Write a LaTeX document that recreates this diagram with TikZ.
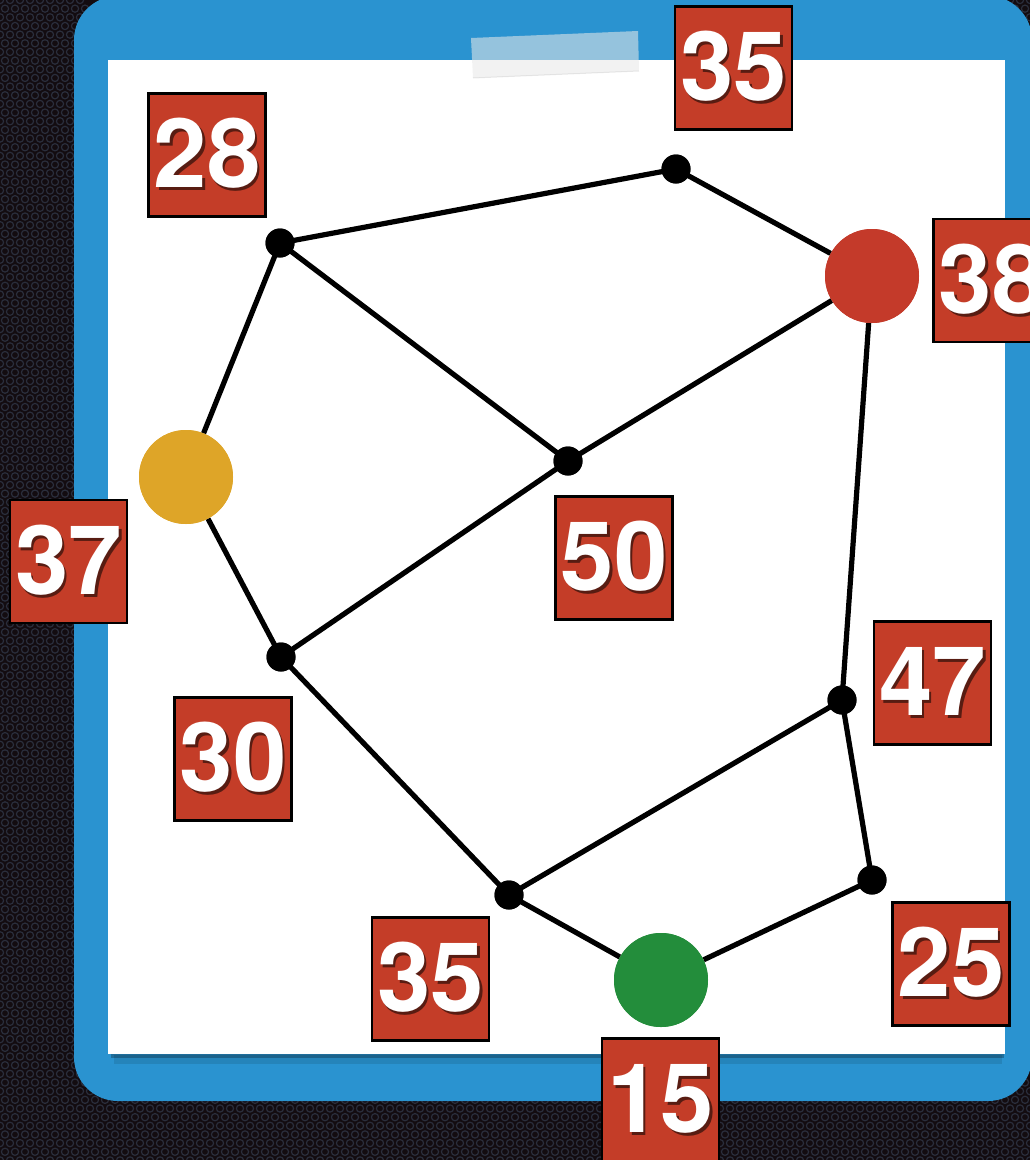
\documentclass[tikz,border=0pt]{standalone}
\usepackage{fontspec}
\newfontfamily\labfont{TeX Gyre Heros}
\definecolor{bgdark}{HTML}{130C10}
\definecolor{bgring}{HTML}{2A2E3C}
\definecolor{boardblue}{HTML}{2A93D0}
\definecolor{labred}{HTML}{C43D28}
\definecolor{nodered}{HTML}{C43A2A}
\definecolor{nodeyellow}{HTML}{DEA528}
\definecolor{nodegreen}{HTML}{238D3B}
\newcommand\shadowed[1]{\rlap{\kern2.5pt\raisebox{-3pt}{\textcolor{black!55!labred}{#1}}}#1}
\tikzset{
  dotnode/.style={circle, fill=black, minimum size=29pt, inner sep=0pt},
  bignode/.style={circle, minimum size=94pt, inner sep=0pt},
  labbox/.style={draw=black, line width=2.5pt, fill=labred, minimum width=117pt,
    minimum height=123pt, inner sep=0pt, text=white,
    font=\labfont\bfseries\fontsize{96}{96}\selectfont},
  edge/.style={line width=5.2pt, black},
  ring/.style={draw=bgring, line width=1.2pt}
}
\begin{document}
\begin{tikzpicture}[x=1pt,y=-1pt]
\useasboundingbox (0,0) rectangle (1030,1160);
\clip (0,0) rectangle (1030,1160);
% dark perforated background
\fill[bgdark] (0,0) rectangle (1030,1160);
\foreach \r in {0,...,134}{
  \pgfmathsetmacro\yy{\r*8.66}
  \pgfmathsetmacro\off{mod(\r,2)*5}
  \foreach \c in {0,...,8}{
    \draw[ring] ({\c*10+\off},\yy) circle (3.6);
  }
}
\foreach \r in {125,...,134}{
  \pgfmathsetmacro\yy{\r*8.66}
  \pgfmathsetmacro\off{mod(\r,2)*5}
  \foreach \c in {9,...,103}{
    \draw[ring] ({\c*10+\off},\yy) circle (3.6);
  }
}
\foreach \r in {0,...,7}{
  \pgfmathsetmacro\yy{\r*8.66}
  \pgfmathsetmacro\off{mod(\r,2)*5}
  \foreach \c in {96,...,103}{
    \draw[ring] ({\c*10+\off},\yy) circle (3.6);
  }
}
% clipboard
\fill[boardblue, rounded corners=44pt] (74,-4) rectangle (1032,1101);
% paper shadow
\fill[black, opacity=0.25] (111,1050) rectangle (1004,1058);
\fill[black, opacity=0.10] (114,1055) rectangle (1002,1064);
% paper
\fill[white] (108,60) rectangle (1005,1054);
% tape
\fill[white, opacity=0.55] (471,38) -- (638,31) -- (639,71) -- (473,78) -- cycle;
\fill[black, opacity=0.05] (471,38) -- (638,31) -- (639,71) -- (473,78) -- cycle;
\draw[black, opacity=0.08, line width=1pt] (473,78) -- (639,71);

% graph nodes
\node[dotnode] (nA) at (280,243) {};
\node[dotnode] (nB) at (676,169) {};
\node[bignode, fill=nodered] (nC) at (872,276) {};
\node[dotnode] (nD) at (568,461) {};
\node[bignode, fill=nodeyellow] (nE) at (186,477) {};
\node[dotnode] (nF) at (281,657) {};
\node[dotnode] (nG) at (842,700) {};
\node[dotnode] (nH) at (872,880) {};
\node[dotnode] (nI) at (509,895) {};
\node[bignode, fill=nodegreen] (nJ) at (661,980) {};

% edges
\draw[edge] (nA.center) -- (nB.center);
\draw[edge] (nB.center) -- (nC);
\draw[edge] (nA.center) -- (nD.center);
\draw[edge] (nC) -- (nD.center);
\draw[edge] (nA.center) -- (nE);
\draw[edge] (nE) -- (nF.center);
\draw[edge] (nF.center) -- (nD.center);
\draw[edge] (nC) -- (nG.center);
\draw[edge] (nG.center) -- (nH.center);
\draw[edge] (nH.center) -- (nJ);
\draw[edge] (nJ) -- (nI.center);
\draw[edge] (nI.center) -- (nF.center);
\draw[edge] (nI.center) -- (nG.center);
% redraw node discs on top of edges
\foreach \n in {nA,nB,nD,nF,nG,nH,nI}{
  \fill[black] (\n.center) circle (14.5);
}
\fill[nodered] (nC.center) circle (47);
\fill[nodeyellow] (nE.center) circle (47);
\fill[nodegreen] (nJ.center) circle (47);

% labels
\node[labbox] (l28) at (207,155) {\raisebox{-3pt}{\shadowed{28}}};
\node[labbox] (l35a) at (733.5,68) {\raisebox{-3pt}{\shadowed{35}}};
\node[labbox] (l38) at (992,280.5) {\raisebox{-3pt}{\shadowed{38}}};
\node[labbox] (l37) at (68.5,561.5) {\raisebox{-3pt}{\shadowed{37}}};
\node[labbox] (l50) at (614,558) {\raisebox{-3pt}{\shadowed{50}}};
\node[labbox] (l47) at (932.5,683) {\raisebox{-3pt}{\shadowed{47}}};
\node[labbox] (l30) at (233,759) {\raisebox{-3pt}{\shadowed{30}}};
\node[labbox] (l35b) at (430.5,979) {\raisebox{-3pt}{\shadowed{35}}};
\node[labbox] (l25) at (951,964) {\raisebox{-3pt}{\shadowed{25}}};
\node[labbox] (l15) at (660.5,1100) {\raisebox{-3pt}{\shadowed{15}}};
\end{tikzpicture}
\end{document}
